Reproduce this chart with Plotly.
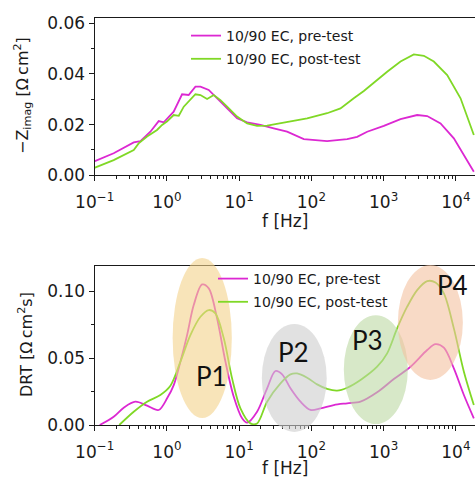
import numpy as np
import plotly.graph_objects as go

# ---- impedance spectra: -Z_imag vs frequency ----
f_eis_pre = [0.0968, 0.183, 0.347, 0.430, 0.590, 0.769, 0.904, 1.24, 1.62, 2.00,
             2.48, 2.91, 3.79, 4.94, 6.81, 9.35, 12.9, 19.7, 30.1, 46.1,
             78.5, 165, 313, 430, 592, 1007, 1714, 2911, 4009, 6138,
             9376, 12912, 17742]
zimag_pre = [0.0054, 0.0087, 0.0130, 0.0135, 0.0172, 0.0214, 0.0209, 0.0251, 0.0320, 0.0317,
             0.0350, 0.0350, 0.0337, 0.0304, 0.0264, 0.0225, 0.0209, 0.0199, 0.0185, 0.0172,
             0.0143, 0.0135, 0.0143, 0.0152, 0.0172, 0.0195, 0.0222, 0.0238, 0.0234, 0.0205,
             0.0146, 0.0080, 0.0014]

f_eis_post = [0.0968, 0.183, 0.347, 0.406, 0.531, 0.729, 0.857, 1.00, 1.24, 1.46,
              1.71, 2.48, 2.91, 3.60, 4.45, 5.51, 6.81, 9.35, 12.9, 17.7,
              24.4, 37.3, 57.0, 87.3, 165, 253, 386, 532, 813, 1119,
              1714, 2618, 3606, 4955, 7586, 11614, 17742]
zimag_post = [0.0028, 0.0060, 0.0100, 0.0126, 0.0153, 0.0179, 0.0199, 0.0212, 0.0238, 0.0235,
              0.0271, 0.0320, 0.0317, 0.0301, 0.0317, 0.0297, 0.0271, 0.0232, 0.0205, 0.0195,
              0.0196, 0.0205, 0.0214, 0.0225, 0.0245, 0.0264, 0.0304, 0.0333, 0.0376, 0.0409,
              0.0449, 0.0477, 0.0472, 0.0449, 0.0396, 0.0304, 0.0159]

# ---- distribution of relaxation times ----
f_drt_pre = [0.1175, 0.1832, 0.2523, 0.3656, 0.5309, 0.7691, 1.005, 1.242, 1.538, 1.901,
             2.350, 3.069, 3.793, 4.943, 6.457, 8.414, 10.99, 12.88, 17.70, 24.38,
             31.77, 39.36, 51.29, 70.63, 97.05, 133.7, 204.2, 312.6, 478.6, 812.8,
             1384, 2355, 4009, 5224, 6823, 9376, 12912, 17742]
drt_pre = [0.0, 0.0062, 0.0129, 0.0174, 0.0144, 0.0112, 0.0199, 0.0298, 0.0473, 0.0671,
           0.0895, 0.1049, 0.1020, 0.0796, 0.0473, 0.0211, 0.0050, 0.0017, 0.0099, 0.0274,
           0.0403, 0.0378, 0.0274, 0.0174, 0.0112, 0.0124, 0.0149, 0.0162, 0.0174, 0.0244,
           0.0343, 0.0435, 0.0560, 0.0604, 0.0577, 0.0423, 0.0224, 0.0050]

f_drt_post = [0.2188, 0.3467, 0.5309, 0.8110, 1.117, 1.538, 2.113, 2.911, 3.793, 4.688,
              6.124, 7.980, 10.42, 14.32, 17.70, 24.38, 37.33, 51.29, 63.39, 87.30,
              120.0, 165.2, 227.0, 312.6, 478.6, 812.8, 1119, 1538, 2118, 2911,
              4009, 5224, 6823, 9376, 12912, 17742]
drt_post = [0.0, 0.0099, 0.0174, 0.0224, 0.0293, 0.0473, 0.0671, 0.0808, 0.0858, 0.0833,
            0.0647, 0.0348, 0.0124, 0.0012, 0.0012, 0.0174, 0.0311, 0.0378, 0.0385, 0.0353,
            0.0303, 0.0269, 0.0256, 0.0278, 0.0336, 0.0435, 0.0535, 0.0721, 0.0883, 0.1007,
            0.1074, 0.1064, 0.0982, 0.0721, 0.0398, 0.0149]

# peak regions: label, f range, DRT range, fill colour, label position (f, drt)
peak_names = ["P1", "P2", "P3", "P4"]
peak_f_lo = [1.20, 20.6, 281, 1574]
peak_f_hi = [7.91, 163, 2163, 12500]
peak_d_lo = [0.0052, -0.0052, 0.0007, 0.0336]
peak_d_hi = [0.1246, 0.0754, 0.0820, 0.1194]
peak_colors = ["#f3d28a", "#cdcdcd", "#bcd9a3", "#f3c1a0"]
peak_label_f = [4.17, 57.0, 604, 9080]
peak_label_d = [0.0366, 0.0545, 0.0634, 0.1044]

legend_names = ["10/90 EC, pre-test", "10/90 EC, post-test"]
c_pre = "#dc28d2"
c_post = "#80d826"

decades = [-1, 0, 1, 2, 3, 4]
x_tickvals = [10.0 ** d for d in decades]
x_ticktext = ["10<sup>%s</sup>" % (str(d).replace("-", "\u2212")) for d in decades]
x_minor = [m * 10.0 ** d for d in decades for m in range(2, 10)]

X_RANGE = [-1.0, 4.265]
Z_MAX = 0.0623
DRT_MAX = 0.1189

W, H = 475, 480
FONT = "DejaVu Sans"
INK = "#1a1a1a"

fig = go.Figure()

fig.add_trace(go.Scatter(x=f_eis_pre, y=zimag_pre, mode="lines", name=legend_names[0],
                         line=dict(color=c_pre, width=1.8), xaxis="x", yaxis="y",
                         legend="legend", legendgroup="a"))
fig.add_trace(go.Scatter(x=f_eis_post, y=zimag_post, mode="lines", name=legend_names[1],
                         line=dict(color=c_post, width=1.8), xaxis="x", yaxis="y",
                         legend="legend", legendgroup="b"))
fig.add_trace(go.Scatter(x=f_drt_pre, y=drt_pre, mode="lines", name=legend_names[0],
                         line=dict(color=c_pre, width=1.8, shape="spline", smoothing=0.9),
                         xaxis="x2", yaxis="y2", legend="legend2", legendgroup="c"))
fig.add_trace(go.Scatter(x=f_drt_post, y=drt_post, mode="lines", name=legend_names[1],
                         line=dict(color=c_post, width=1.8, shape="spline", smoothing=0.9),
                         xaxis="x2", yaxis="y2", legend="legend2", legendgroup="d"))

x_left = 94.7 / W
dom_top = [1 - 175.3 / H, 1 - 17.5 / H]
dom_bot = [1 - 425.0 / H, 1 - 265.7 / H]

axis_common = dict(showline=True, linecolor=INK, linewidth=1.3, showgrid=False, zeroline=False,
                   ticks="outside", ticklen=5, tickwidth=1.1, tickcolor=INK,
                   tickfont=dict(family=FONT, size=17, color=INK), automargin=False)

xaxis_common = dict(axis_common, type="log", range=X_RANGE, domain=[x_left, 1.0], mirror=True,
                    tickmode="array", tickvals=x_tickvals, ticktext=x_ticktext,
                    ticklabelstandoff=6,
                    minor=dict(tickmode="array", tickvals=x_minor, ticks="outside",
                               ticklen=3, tickwidth=0.9, tickcolor=INK))

legend_common = dict(xanchor="left", yanchor="top", bgcolor="rgba(0,0,0,0)",
                     tracegroupgap=2, font=dict(family=FONT, size=14, color=INK))

fig.update_layout(
    width=W, height=H,
    margin=dict(l=0, r=0, t=0, b=0),
    paper_bgcolor="white", plot_bgcolor="white",
    xaxis=dict(xaxis_common, anchor="y"),
    yaxis=dict(axis_common, domain=dom_top, range=[0, Z_MAX], anchor="x",
               tickmode="linear", tick0=0, dtick=0.02, tickformat=".2f",
               minor=dict(dtick=0.01, ticks="outside", ticklen=3, tickwidth=0.9, tickcolor=INK)),
    xaxis2=dict(xaxis_common, anchor="y2"),
    yaxis2=dict(axis_common, domain=dom_bot, range=[0, DRT_MAX], anchor="x2",
                tickmode="linear", tick0=0, dtick=0.05, tickformat=".2f",
                minor=dict(dtick=0.025, ticks="outside", ticklen=3, tickwidth=0.9, tickcolor=INK)),
    legend=dict(legend_common, x=186 / W, y=1 - 20 / H),
    legend2=dict(legend_common, x=213 / W, y=1 - 263 / H),
    showlegend=True,
)

# translucent peak regions drawn over the DRT curves
for name, f0, f1, d0, d1, col in zip(peak_names, peak_f_lo, peak_f_hi, peak_d_lo, peak_d_hi, peak_colors):
    fig.add_shape(type="circle", xref="x2", yref="y2 domain",
                  x0=f0, x1=f1, y0=d0 / DRT_MAX, y1=d1 / DRT_MAX,
                  fillcolor=col, opacity=0.6, line=dict(width=0), layer="above")

for name, fx, dy in zip(peak_names, peak_label_f, peak_label_d):
    fig.add_annotation(x=np.log10(fx), y=dy, xref="x2", yref="y2", text=name, showarrow=False,
                       font=dict(family="Lato", size=26, color="#111111"))

# axis titles
title_font = dict(family=FONT, size=17, color=INK)
x_mid = (x_left + 1.0) / 2
fig.add_annotation(x=x_mid, y=1 - 221 / H, xref="paper", yref="paper", text="f [Hz]",
                   xanchor="center", yanchor="middle", showarrow=False, font=title_font)
fig.add_annotation(x=x_mid, y=1 - 468 / H, xref="paper", yref="paper", text="f [Hz]",
                   xanchor="center", yanchor="middle", showarrow=False, font=title_font)
fig.add_annotation(x=23 / W, y=1 - 96 / H, xref="paper", yref="paper", textangle=-90,
                   text="\u2212Z<sub>imag</sub> [\u03a9\u2009cm<sup>2</sup>]",
                   xanchor="center", yanchor="middle",
                   showarrow=False, font=dict(family=FONT, size=16, color=INK))
fig.add_annotation(x=25 / W, y=1 - 345 / H, xref="paper", yref="paper", textangle=-90,
                   text="DRT [\u03a9\u2009cm<sup>2</sup>s]",
                   xanchor="center", yanchor="middle",
                   showarrow=False, font=dict(family=FONT, size=16, color=INK))

fig.write_html("out.html")
